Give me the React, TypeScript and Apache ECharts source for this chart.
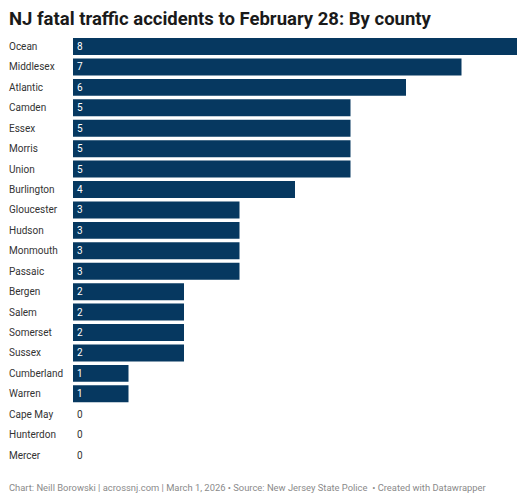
import React, { useEffect, useRef } from "react";
import * as echarts from "echarts";

const counties = ["Ocean","Middlesex","Atlantic","Camden","Essex","Morris","Union","Burlington","Gloucester","Hudson","Monmouth","Passaic","Bergen","Salem","Somerset","Sussex","Cumberland","Warren","Cape May","Hunterdon","Mercer"];
const accidents = [8,7,6,5,5,5,5,4,3,3,3,3,2,2,2,2,1,1,0,0,0];
const titleText = "NJ fatal traffic accidents to February 28: By county";
const footerText = "Chart: Neill Borowski | acrossnj.com | March 1, 2026 \u2022 Source: New Jersey State Police  \u2022 Created with Datawrapper";

export default function App() {
  const ref = useRef<HTMLDivElement>(null);
  useEffect(() => {
    if (!ref.current) return;
    const chart = echarts.init(ref.current, null, { renderer: "svg" });
    const font = "Roboto, sans-serif";
    chart.setOption({
      animation: false,
      backgroundColor: "#ffffff",
      textStyle: { fontFamily: font },
      title: {
        text: titleText,
        left: 9,
        top: 9,
        padding: 0,
        textStyle: { fontFamily: font, fontSize: 18.5, fontWeight: "bold", color: "#1a1a1a" },
      },
      graphic: [
        {
          type: "text",
          left: 9,
          top: 483,
          style: { text: footerText, fontFamily: font, fontSize: 9.4, fill: "#8a8a8a" },
        },
      ],
      grid: { left: 73, right: 10, top: 36.3, bottom: 34.7, containLabel: false },
      xAxis: { type: "value", min: 0, max: 8, show: false },
      yAxis: {
        type: "category",
        data: counties,
        inverse: true,
        axisLine: { show: false },
        axisTick: { show: false },
        splitLine: { show: false },
        axisLabel: { align: "left", margin: 64, fontSize: 10, color: "#333333", fontFamily: font },
      },
      series: [
        {
          type: "bar",
          data: accidents.map((v) => ({
            value: v,
            label: { color: v === 0 ? "#333333" : "#ffffff" },
          })),
          barCategoryGap: "17%",
          itemStyle: { color: "#063860" },
          label: { show: true, position: "insideLeft", distance: 4, fontSize: 10, fontFamily: font },
        },
      ],
    });
    return () => chart.dispose();
  }, []);
  return <div ref={ref} style={{ position: "fixed", left: 0, top: 0, width: 527, height: 500 }} />;
}
